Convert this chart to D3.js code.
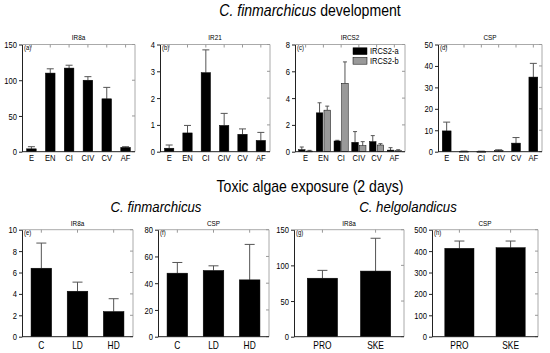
<!DOCTYPE html>
<html>
<head>
<meta charset="utf-8">
<script src="https://cdn.jsdelivr.net/npm/d3@7"></script>
<style>
  body { margin: 0; background: #fff; }
  svg { font-family: "Liberation Sans", Arial, sans-serif; }
</style>
</head>
<body>
<div id="chart"></div>
<script>
// categories
const devStages = ["E", "EN", "CI", "CIV", "CV", "AF"];
const doseGroups = ["C", "LD", "HD"];
const dietGroups = ["PRO", "SKE"];

// means and (upper) error amounts
const ir8aDev = [4, 110, 117, 100, 74, 6];
const ir8aDevErr = [3, 6, 4, 5, 16, 1];
const ir21Dev = [0.13, 0.7, 2.95, 0.98, 0.65, 0.42];
const ir21DevErr = [0.12, 0.28, 0.85, 0.45, 0.2, 0.3];
const ircs2aDev = [0.15, 2.9, 0.8, 0.7, 0.75, 0.12];
const ircs2aDevErr = [0.2, 0.75, 0.05, 0.8, 0.45, 0.18];
const ircs2bDev = [0.05, 3.1, 5.1, 0.45, 0.5, 0.08];
const ircs2bDevErr = [0.05, 0.3, 1.6, 0.3, 0.1, 0.07];
const cspDev = [9.7, 0.2, 0.15, 0.5, 4, 34.8];
const cspDevErr = [4.1, 0.1, 0.1, 0.4, 2.6, 6.4];

const ir8aFin = [6.4, 4.25, 2.35];
const ir8aFinErr = [2.35, 0.85, 1.2];
const cspFin = [47.5, 49.5, 42.5];
const cspFinErr = [8, 3.5, 26.5];
const ir8aHel = [82, 92];
const ir8aHelErr = [11, 46];
const cspHel = [413, 416];
const cspHelErr = [34, 31];

// tick labels
const ticksA = [0, 50, 100, 150];
const ticksB = [0, 1, 2, 3, 4];
const ticksC = [0, 2, 4, 6, 8];
const ticksD = [0, 10, 20, 30, 40, 50];
const ticksE = [0, 2, 4, 6, 8, 10];
const ticksF = [0, 20, 40, 60, 80];
const ticksG = [0, 50, 100, 150];
const ticksH = [0, 100, 200, 300, 400, 500];

const width = 550, height = 353;
const svg = d3.select("#chart").append("svg")
  .attr("width", width).attr("height", height);

// the original figure is squeezed horizontally, so text gets an x scale
function label(x, y, str, size, sx, opts) {
  opts = opts || {};
  const t = svg.append("text")
    .attr("transform", `translate(${x},${y}) scale(${sx},1)`)
    .attr("text-anchor", opts.anchor || "middle")
    .style("font-size", size + "px")
    .style("fill", "#000")
    .text(str);
  if (opts.italic) t.style("font-style", "italic");
  return t;
}

function panel(p) {
  const g = svg.append("g");
  const x = d3.scaleBand().domain(p.cats).range([p.x0, p.x1])
    .paddingInner(p.pi).paddingOuter(p.po);
  const y = d3.scaleLinear().domain([0, p.ticks[p.ticks.length - 1]]).range([p.y1, p.y0]);
  const sub = d3.scaleBand().domain(d3.range(p.series.length))
    .range([0, x.bandwidth()]).paddingInner(0.15);

  // light frame on top and right, with inward ticks
  g.append("path")
    .attr("d", `M${p.x0},${p.y0}H${p.x1}V${p.y1}`)
    .attr("fill", "none").attr("stroke", "#aaa").attr("stroke-width", 1);
  g.selectAll(null).data(p.cats).join("line")
    .attr("x1", (d) => x(d) + x.bandwidth() / 2).attr("x2", (d) => x(d) + x.bandwidth() / 2)
    .attr("y1", p.y0).attr("y2", p.y0 + 3)
    .attr("stroke", "#999");
  g.selectAll(null).data(p.ticks).join("line")
    .attr("x1", p.x1 - 3).attr("x2", p.x1)
    .attr("y1", (d) => y(d)).attr("y2", (d) => y(d))
    .attr("stroke", "#999");

  // bars and error bars
  p.series.forEach(function (s, i) {
    const bw = sub.bandwidth();
    const bx = (j) => x(p.cats[j]) + sub(i);
    const idx = d3.range(p.cats.length);
    g.selectAll(null).data(idx).join("line")
      .attr("x1", (j) => bx(j) + bw / 2).attr("x2", (j) => bx(j) + bw / 2)
      .attr("y1", (j) => y(s.vals[j])).attr("y2", (j) => y(s.vals[j] + s.errs[j]))
      .attr("stroke", "#555").attr("stroke-width", 1);
    g.selectAll(null).data(idx).join("line")
      .attr("x1", (j) => bx(j) + bw / 2 - p.cap / 2).attr("x2", (j) => bx(j) + bw / 2 + p.cap / 2)
      .attr("y1", (j) => y(s.vals[j] + s.errs[j])).attr("y2", (j) => y(s.vals[j] + s.errs[j]))
      .attr("stroke", "#555").attr("stroke-width", 1);
    g.selectAll(null).data(idx).join("rect")
      .attr("x", bx).attr("width", bw)
      .attr("y", (j) => y(s.vals[j]))
      .attr("height", (j) => Math.max(0.8, p.y1 - y(s.vals[j])))
      .attr("fill", s.color).attr("stroke", "#000").attr("stroke-width", 0.5);
  });

  // left axis
  const ya = g.append("g").attr("transform", `translate(${p.x0},0)`)
    .call(d3.axisLeft(y).tickValues(p.ticks).tickSize(3).tickSizeOuter(0).tickFormat(d3.format("d")));
  ya.select(".domain").attr("stroke", "#222");
  ya.selectAll("line").attr("stroke", "#222");
  ya.selectAll("text").style("font-size", p.tfs + "px").style("fill", "#000")
    .attr("x", -5 / 0.8).attr("transform", "scale(0.8,1)");

  // bottom axis
  const xa = g.append("g").attr("transform", `translate(0,${p.y1})`)
    .call(d3.axisBottom(x).tickSize(0).tickPadding(p.cpad).tickSizeOuter(0));
  xa.select(".domain").attr("stroke", "#222").attr("d", `M${p.x0},0H${p.x1}`);
  xa.selectAll("text").style("font-size", p.cfs + "px").style("fill", "#000")
    .attr("transform", "scale(0.8,1)");

  // panel title and letter
  label((p.x0 + p.x1) / 2, p.ty, p.title, 7.5, 0.85);
  label(p.x0 + 2, p.y0 + 5.5, p.letter, 7, 0.85, { anchor: "start" });
}

const topY0 = 44.5, topY1 = 151.7, botY0 = 229.7, botY1 = 336.7;
const topRow = { y0: topY0, y1: topY1, pi: 0.4, po: 0.2, cap: 7, ty: 39.5, tfs: 9.5, cfs: 9.5, cpad: 3 };
const botRow = { y0: botY0, y1: botY1, pi: 0.33, po: 0.2, cap: 10, ty: 225.5, tfs: 9.5, cfs: 10.5, cpad: 4.5 };

panel(Object.assign({}, topRow, { x0: 22, x1: 135, cats: devStages, ticks: ticksA, title: "IR8a", letter: "(a)",
  series: [{ vals: ir8aDev, errs: ir8aDevErr, color: "#000" }] }));
panel(Object.assign({}, topRow, { x0: 160, x1: 270, cats: devStages, ticks: ticksB, title: "IR21", letter: "(b)",
  series: [{ vals: ir21Dev, errs: ir21DevErr, color: "#000" }] }));
panel(Object.assign({}, topRow, { x0: 295, x1: 405, cats: devStages, ticks: ticksC, title: "IRCS2", letter: "(c)", pi: 0.2, cap: 4,
  series: [{ vals: ircs2aDev, errs: ircs2aDevErr, color: "#000" }, { vals: ircs2bDev, errs: ircs2bDevErr, color: "#999" }] }));
panel(Object.assign({}, topRow, { x0: 438, x1: 542, cats: devStages, ticks: ticksD, title: "CSP", letter: "(d)",
  series: [{ vals: cspDev, errs: cspDevErr, color: "#000" }] }));

panel(Object.assign({}, botRow, { x0: 22, x1: 133, cats: doseGroups, ticks: ticksE, title: "IR8a", letter: "(e)",
  series: [{ vals: ir8aFin, errs: ir8aFinErr, color: "#000" }] }));
panel(Object.assign({}, botRow, { x0: 158, x1: 269, cats: doseGroups, ticks: ticksF, title: "CSP", letter: "(f)",
  series: [{ vals: cspFin, errs: cspFinErr, color: "#000" }] }));
panel(Object.assign({}, botRow, { x0: 294, x1: 404, cats: dietGroups, ticks: ticksG, title: "IR8a", letter: "(g)",
  series: [{ vals: ir8aHel, errs: ir8aHelErr, color: "#000" }] }));
panel(Object.assign({}, botRow, { x0: 432, x1: 538, cats: dietGroups, ticks: ticksH, title: "CSP", letter: "(h)",
  series: [{ vals: cspHel, errs: cspHelErr, color: "#000" }] }));

// legend for IRCS2
const legendItems = [["IRCS2-a", "#000"], ["IRCS2-b", "#999"]];
legendItems.forEach(function (d, i) {
  svg.append("rect").attr("x", 353).attr("y", 47.8 + i * 9.6).attr("width", 14).attr("height", 6.8)
    .attr("fill", d[1]).attr("stroke", "#000").attr("stroke-width", 0.5);
  label(370, 54.4 + i * 9.6, d[0], 8.3, 0.9, { anchor: "start" });
});

// headings
const h1 = label(310, 16, "", 16, 0.88);
h1.append("tspan").style("font-style", "italic").text("C. finmarchicus");
h1.append("tspan").text(" development");
label(310, 191.7, "Toxic algae exposure (2 days)", 16, 0.88);
label(156, 211.7, "C. finmarchicus", 15, 0.88, { italic: true });
label(408, 211.7, "C. helgolandicus", 15, 0.88, { italic: true });
</script>
</body>
</html>
